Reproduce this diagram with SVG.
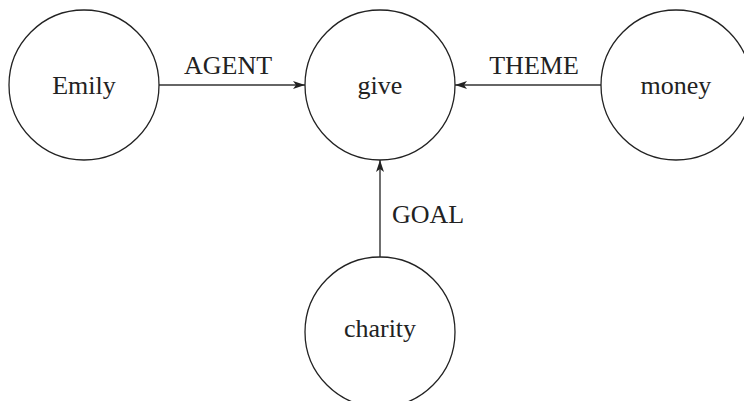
<svg xmlns="http://www.w3.org/2000/svg" width="744" height="401" viewBox="0 0 744 401">
<style>
.node circle{fill:#fff;stroke:#222;stroke-width:1.3}
text{font-family:"Liberation Serif","Times New Roman",serif;font-size:26px;fill:#222}
.node text{text-anchor:middle}
.edge line{stroke:#333;stroke-width:1.4;marker-end:url(#arr)}
</style>
<defs>
<marker id="arr" viewBox="0 0 12 8" refX="12" refY="4" markerWidth="12" markerHeight="8" markerUnits="userSpaceOnUse" orient="auto">
<path d="M0,0 L12,4 L0,8 L3,4 Z" fill="#222"/>
</marker>
</defs>
<g id="edges">
<g class="edge" id="e-agent"><line x1="159" y1="85" x2="305" y2="85"/><text x="228" y="74" text-anchor="middle">AGENT</text></g>
<g class="edge" id="e-theme"><line x1="601" y1="85" x2="455" y2="85"/><text x="534" y="74" text-anchor="middle">THEME</text></g>
<g class="edge" id="e-goal"><line x1="380" y1="257" x2="380" y2="160"/><text x="392" y="223">GOAL</text></g>
</g>
<g class="node" id="n-emily"><circle cx="84" cy="85" r="75"/><text x="84" y="94">Emily</text></g>
<g class="node" id="n-give"><circle cx="380" cy="85" r="75"/><text x="380" y="94">give</text></g>
<g class="node" id="n-money"><circle cx="676" cy="85" r="75"/><text x="676" y="94">money</text></g>
<g class="node" id="n-charity"><circle cx="380" cy="332" r="75"/><text x="380" y="337">charity</text></g>
</svg>
